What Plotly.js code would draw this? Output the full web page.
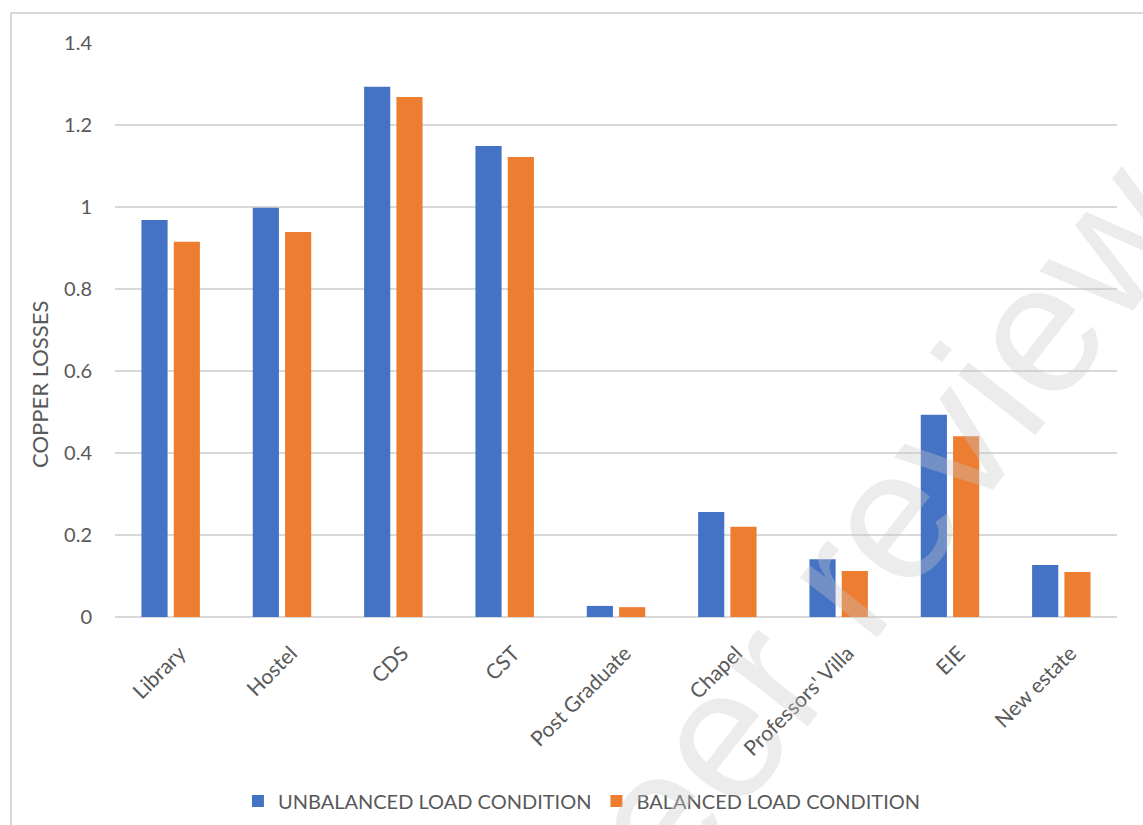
<!DOCTYPE html>
<html><head><meta charset="utf-8">
<script src="https://cdn.plot.ly/plotly-3.0.1.min.js"></script>
<style>html,body{margin:0;padding:0;background:#fff;overflow:hidden}#chart{width:1143px;height:825px}
#frame{position:absolute;left:10px;top:12px;width:1200px;height:900px;border:2px solid #d9d9d9;pointer-events:none;box-sizing:border-box}
#wm{position:absolute;left:848px;top:572px;transform:translate(-50%,-50%) rotate(-52deg);white-space:nowrap;line-height:1;
font-family:'Liberation Sans',Arial,sans-serif;font-size:185px;color:rgba(200,200,200,0.35);pointer-events:none}</style>
</head><body>
<div id="chart"></div><div id="frame"></div><div id="wm">Peer review</div>
<script>
const categories = ["Library","Hostel","CDS","CST","Post Graduate","Chapel","Professors' Villa","EIE","New estate"];
const unbalanced = [0.968,0.998,1.293,1.149,0.027,0.256,0.141,0.493,0.127];
const balanced = [0.915,0.939,1.268,1.122,0.024,0.220,0.112,0.441,0.110];
const yTicks = [0,0.2,0.4,0.6,0.8,1,1.2,1.4];
const yTickLabels = ["0","0.2","0.4","0.6","0.8","1","1.2","1.4"];
const yTitle = "COPPER LOSSES";
const font = "Lato, 'Open Sans', sans-serif";
const traces = [
  {type:"bar", name:"UNBALANCED LOAD CONDITION", x:categories, y:unbalanced, marker:{color:"#4472c4"}, hoverinfo:"y"},
  {type:"bar", name:"BALANCED LOAD CONDITION", x:categories, y:balanced, marker:{color:"#ed7d31"}, hoverinfo:"y"}
];
const layout = {
  width:1143, height:825,
  margin:{l:115, r:26, t:43, b:208, autoexpand:false},
  paper_bgcolor:"#fff", plot_bgcolor:"#fff",
  barmode:"group", bargap:0.42, bargroupgap:0.19,
  font:{family:font, color:"#595959", size:20},
  xaxis:{tickangle:-45, tickfont:{size:21, color:"#595959"}, showline:false, ticks:"", showgrid:false, fixedrange:true,
         ticklabelstandoff:19, ticklabelshift:9, automargin:false},
  yaxis:{range:[0,1.4], tickvals:yTicks, ticktext:yTickLabels, tickfont:{size:20, color:"#595959"},
         gridcolor:"#d9d9d9", gridwidth:1.6, zeroline:true, zerolinecolor:"#d9d9d9", zerolinewidth:2,
         showline:false, ticks:"", ticklen:0, automargin:false, ticklabelstandoff:22},
  legend:{orientation:"h", x:0.466, xanchor:"center", y:-0.3206, yanchor:"middle", font:{size:20, color:"#595959"}, traceorder:"normal", itemwidth:30},
  showlegend:true,
  annotations:[{text:yTitle, xref:"paper", yref:"paper", x:-0.0749, y:0.406, xanchor:"center", yanchor:"middle", showarrow:false, textangle:-90,
    font:{size:22, color:"#595959"}}]
};
Plotly.newPlot("chart", traces, layout, {displayModeBar:false, staticPlot:true});
</script>
</body></html>
